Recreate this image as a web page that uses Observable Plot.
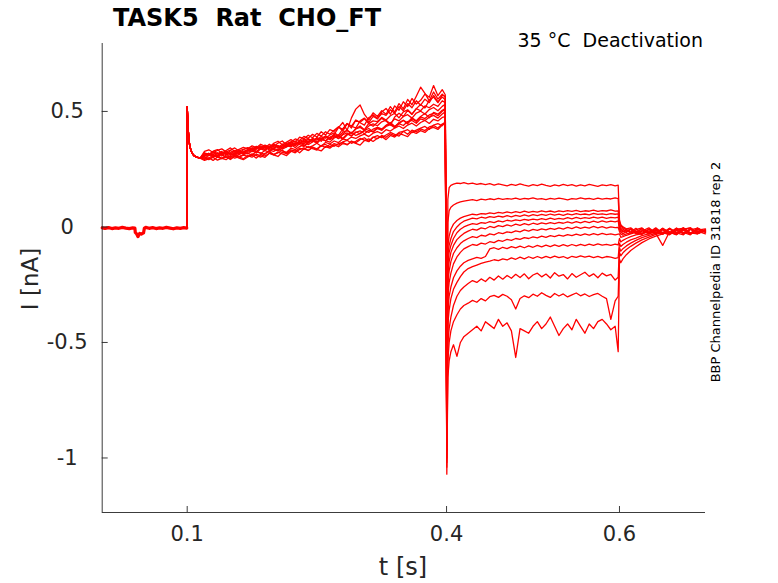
<!DOCTYPE html>
<html>
<head>
<meta charset="utf-8">
<script src="https://cdn.jsdelivr.net/npm/d3@7"></script>
<script src="https://cdn.jsdelivr.net/npm/@observablehq/plot@0.6"></script>
<style>
  html, body { margin: 0; padding: 0; background: #fff; }
  svg text { white-space: pre; }
</style>
</head>
<body>
<div id="chart"></div>
<script>
// ---- axis ticks ----
const xTicks = [0.1, 0.4, 0.6];
const yTicks = [0.5, 0, -0.5, -1];
const xDomain = [0.0017, 0.6995];
const yDomain = [-1.236, 0.794];

// ---- pre-pulse segment (shared by all sweeps) ----
const tPre = [0.0017,0.005,0.009,0.013,0.017,0.021,0.025,0.029,0.033,0.037,0.0395,0.040,0.0415,0.043,0.045,0.047,0.0495,0.0505,0.052,0.056,0.06,0.064,0.068,0.072,0.076,0.08,0.084,0.088,0.092,0.096,0.0995];
const iPre = [-0.004,-0.006,-0.003,-0.007,-0.004,-0.006,-0.002,-0.005,-0.007,-0.004,-0.005,-0.024,-0.03,-0.042,-0.028,-0.031,-0.026,-0.005,-0.002,-0.006,-0.003,-0.007,-0.004,-0.006,-0.002,-0.005,-0.008,-0.004,-0.006,-0.003,-0.005];

// ---- pulse onset (shared) ----
const tOnset = [0.0995,0.1,0.1006,0.1012,0.102,0.103,0.1045,0.106,0.108,0.111,0.115];
const iOnset = [-0.005,0.52,0.47,0.42,0.38,0.35,0.33,0.317,0.308,0.302,0.298];

// ---- conditioning pulse, per sweep ----
const tPulse = [0.12,0.125,0.13,0.135,0.14,0.145,0.15,0.155,0.16,0.165,
 0.17,0.175,0.18,0.185,0.19,0.195,0.2,0.205,0.21,0.215,
 0.22,0.225,0.23,0.235,0.24,0.245,0.25,0.255,0.26,0.265,
 0.27,0.275,0.28,0.285,0.29,0.295,0.3,0.305,0.31,0.315,
 0.32,0.325,0.33,0.335,0.34,0.345,0.35,0.355,0.36,0.365,
 0.37,0.375,0.38,0.385,0.39,0.395,0.3985];
const iPulse = [
 [0.312,0.318,0.305,0.309,0.322,0.316,0.301,0.314,0.326,0.318,
  0.322,0.335,0.327,0.318,0.331,0.344,0.336,0.329,0.341,0.352,
  0.347,0.359,0.366,0.351,0.362,0.378,0.369,0.383,0.372,0.388,
  0.395,0.384,0.402,0.418,0.406,0.425,0.437,0.421,0.448,0.436,
  0.452,0.47,0.458,0.441,0.476,0.492,0.478,0.505,0.487,0.512,
  0.53,0.515,0.548,0.562,0.538,0.571,0.565],
 [0.298,0.309,0.315,0.302,0.296,0.311,0.32,0.307,0.313,0.324,
  0.316,0.329,0.321,0.338,0.33,0.324,0.342,0.351,0.337,0.346,
  0.358,0.343,0.361,0.372,0.356,0.368,0.384,0.371,0.392,0.379,
  0.401,0.43,0.452,0.418,0.472,0.51,0.528,0.487,0.462,0.494,
  0.478,0.503,0.488,0.521,0.497,0.534,0.511,0.552,0.529,0.566,
  0.605,0.578,0.546,0.584,0.553,0.575,0.562],
 [0.318,0.311,0.326,0.319,0.307,0.322,0.314,0.331,0.323,0.316,
  0.329,0.337,0.324,0.341,0.348,0.333,0.339,0.352,0.344,0.358,
  0.351,0.363,0.357,0.348,0.369,0.376,0.362,0.381,0.374,0.367,
  0.385,0.393,0.379,0.398,0.41,0.396,0.404,0.417,0.409,0.423,
  0.431,0.419,0.44,0.452,0.436,0.447,0.462,0.451,0.473,0.46,
  0.478,0.491,0.472,0.496,0.488,0.505,0.512],
 [0.298,0.291,0.304,0.31,0.296,0.303,0.294,0.309,0.302,0.311,
  0.305,0.316,0.309,0.302,0.319,0.326,0.314,0.321,0.332,0.318,
  0.334,0.327,0.341,0.336,0.348,0.339,0.333,0.352,0.357,0.346,
  0.361,0.354,0.368,0.375,0.362,0.371,0.383,0.376,0.369,0.388,
  0.395,0.386,0.398,0.409,0.401,0.393,0.414,0.421,0.408,0.419,
  0.428,0.435,0.422,0.441,0.447,0.438,0.458],
 [0.307,0.314,0.321,0.309,0.317,0.328,0.312,0.32,0.331,0.322,
  0.335,0.326,0.341,0.347,0.333,0.349,0.356,0.343,0.358,0.351,
  0.364,0.372,0.358,0.376,0.383,0.369,0.387,0.378,0.394,0.385,
  0.401,0.392,0.41,0.418,0.403,0.424,0.431,0.419,0.437,0.446,
  0.438,0.455,0.462,0.447,0.468,0.459,0.478,0.486,0.471,0.493,
  0.501,0.489,0.508,0.517,0.503,0.522,0.531],
 [0.292,0.299,0.288,0.303,0.297,0.291,0.306,0.298,0.304,0.295,
  0.309,0.302,0.315,0.308,0.301,0.319,0.312,0.324,0.316,0.309,
  0.326,0.334,0.321,0.338,0.331,0.343,0.336,0.329,0.348,0.341,
  0.355,0.347,0.361,0.357,0.369,0.362,0.354,0.374,0.381,0.37,
  0.384,0.392,0.378,0.396,0.389,0.404,0.398,0.391,0.412,0.405,
  0.417,0.409,0.426,0.431,0.422,0.441,0.448],
 [0.321,0.314,0.328,0.335,0.319,0.331,0.342,0.327,0.336,0.344,
  0.338,0.351,0.343,0.358,0.349,0.341,0.362,0.371,0.356,0.367,
  0.378,0.366,0.389,0.382,0.397,0.386,0.405,0.393,0.412,0.401,
  0.419,0.434,0.415,0.447,0.428,0.462,0.451,0.441,0.473,0.486,
  0.469,0.497,0.513,0.488,0.524,0.505,0.542,0.521,0.556,0.532,
  0.548,0.575,0.561,0.612,0.568,0.594,0.572],
 [0.303,0.297,0.311,0.306,0.315,0.301,0.309,0.318,0.304,0.313,
  0.319,0.311,0.326,0.321,0.314,0.332,0.327,0.338,0.329,0.323,
  0.341,0.335,0.348,0.356,0.343,0.351,0.362,0.349,0.366,0.359,
  0.372,0.365,0.381,0.376,0.389,0.383,0.394,0.402,0.391,0.406,
  0.413,0.404,0.421,0.415,0.428,0.437,0.426,0.441,0.449,0.437,
  0.452,0.461,0.448,0.466,0.459,0.474,0.478],
 [0.327,0.334,0.322,0.331,0.338,0.325,0.333,0.342,0.329,0.336,
  0.343,0.337,0.349,0.341,0.354,0.347,0.358,0.35,0.345,0.362,
  0.368,0.359,0.373,0.366,0.379,0.372,0.364,0.383,0.391,0.378,
  0.389,0.397,0.384,0.402,0.395,0.409,0.416,0.403,0.418,0.411,
  0.426,0.419,0.435,0.443,0.43,0.447,0.439,0.456,0.461,0.449,
  0.468,0.461,0.475,0.483,0.471,0.489,0.498],
 [0.309,0.316,0.304,0.321,0.313,0.326,0.318,0.311,0.329,0.322,
  0.334,0.327,0.341,0.336,0.348,0.339,0.353,0.346,0.339,0.357,
  0.364,0.356,0.371,0.379,0.365,0.384,0.376,0.391,0.384,0.398,
  0.407,0.396,0.425,0.448,0.436,0.462,0.453,0.468,0.447,0.459,
  0.456,0.474,0.463,0.481,0.492,0.472,0.498,0.507,0.489,0.512,
  0.503,0.524,0.516,0.531,0.522,0.546,0.538],
 [0.288,0.295,0.301,0.289,0.297,0.304,0.292,0.306,0.298,0.291,
  0.303,0.311,0.298,0.314,0.307,0.319,0.312,0.305,0.323,0.317,
  0.328,0.321,0.335,0.342,0.331,0.346,0.338,0.352,0.344,0.357,
  0.349,0.361,0.366,0.355,0.372,0.364,0.378,0.386,0.371,0.389,
  0.382,0.396,0.388,0.403,0.394,0.409,0.414,0.401,0.419,0.412,
  0.424,0.417,0.433,0.439,0.428,0.446,0.449],
 [0.318,0.309,0.324,0.315,0.327,0.312,0.321,0.33,0.316,0.325,
  0.331,0.339,0.326,0.343,0.337,0.349,0.34,0.334,0.353,0.347,
  0.358,0.351,0.367,0.36,0.372,0.378,0.364,0.381,0.373,0.388,
  0.394,0.382,0.399,0.407,0.393,0.411,0.404,0.418,0.426,0.412,
  0.431,0.424,0.439,0.447,0.433,0.452,0.461,0.446,0.468,0.457,
  0.476,0.469,0.485,0.492,0.481,0.501,0.508],
 [0.306,0.319,0.311,0.302,0.323,0.316,0.33,0.321,0.314,0.335,
  0.329,0.343,0.336,0.351,0.342,0.358,0.347,0.363,0.372,0.355,
  0.368,0.381,0.374,0.392,0.384,0.401,0.389,0.412,0.398,0.421,
  0.414,0.432,0.423,0.446,0.437,0.428,0.459,0.471,0.452,0.479,
  0.468,0.491,0.483,0.507,0.492,0.521,0.503,0.534,0.516,0.546,
  0.527,0.553,0.538,0.569,0.541,0.562,0.551]
];

// ---- test step, onset part, per sweep ----
const tTestOnset = [0.4003,0.4015,0.403,0.405,0.408,0.412,0.416,0.42];
const iTestOnset = [
 [-0.72,0.12,0.17,0.18,0.185,0.19,0.188,0.192],
 [-0.78,0.02,0.07,0.085,0.095,0.103,0.108,0.112],
 [-0.82,-0.08,-0.04,-0.01,0.012,0.028,0.038,0.045],
 [-0.85,-0.12,-0.08,-0.05,-0.02,0.0,0.015,0.025],
 [-0.88,-0.16,-0.11,-0.08,-0.05,-0.025,-0.01,0.0],
 [-0.9,-0.2,-0.15,-0.11,-0.08,-0.055,-0.04,-0.028],
 [-0.92,-0.24,-0.19,-0.15,-0.115,-0.09,-0.072,-0.06],
 [-0.95,-0.3,-0.24,-0.2,-0.16,-0.13,-0.11,-0.095],
 [-0.97,-0.36,-0.3,-0.26,-0.22,-0.19,-0.17,-0.155],
 [-1.0,-0.42,-0.36,-0.31,-0.27,-0.24,-0.215,-0.195],
 [-1.02,-0.5,-0.44,-0.39,-0.34,-0.3,-0.275,-0.26],
 [-1.04,-0.58,-0.5,-0.45,-0.41,-0.38,-0.355,-0.34],
 [-1.07,-0.65,-0.58,-0.54,-0.51,-0.56,-0.5,-0.475]
];

// ---- test step, steady part, per sweep ----
const tTestBody = [0.425,0.43,0.435,0.44,0.445,0.45,0.455,0.46,0.465, 0.47,0.475,0.48,0.485,0.49,0.495,0.5,0.505,0.51, 0.515,0.52,0.525,0.53,0.535,0.54,0.545,0.55,0.555, 0.56,0.565,0.57,0.575,0.58,0.585,0.59,0.595,0.5985];
const iTestBody = [
 [0.186,0.19,0.184,0.188,0.183,0.187,0.181,0.186,0.182, 0.178,0.184,0.18,0.186,0.181,0.177,0.183,0.179,0.185, 0.18,0.176,0.182,0.178,0.184,0.179,0.183,0.177,0.182, 0.178,0.184,0.18,0.176,0.182,0.179,0.183,0.178,0.181],
 [0.115,0.118,0.114,0.12,0.117,0.122,0.118,0.124,0.119, 0.123,0.12,0.125,0.119,0.124,0.121,0.126,0.12,0.123, 0.118,0.124,0.12,0.125,0.121,0.117,0.123,0.12,0.126, 0.121,0.124,0.119,0.125,0.12,0.124,0.121,0.126,0.123],
 [0.05,0.055,0.052,0.058,0.056,0.061,0.058,0.063,0.06, 0.065,0.061,0.066,0.062,0.068,0.063,0.067,0.064,0.07, 0.065,0.069,0.064,0.07,0.066,0.071,0.067,0.072,0.066, 0.07,0.068,0.073,0.067,0.071,0.069,0.074,0.068,0.07],
 [0.032,0.038,0.035,0.042,0.038,0.045,0.041,0.047,0.043, 0.049,0.044,0.05,0.046,0.052,0.047,0.053,0.049,0.054, 0.05,0.056,0.051,0.055,0.05,0.057,0.052,0.058,0.053, 0.056,0.052,0.059,0.054,0.057,0.053,0.058,0.055,0.057],
 [0.008,0.014,0.011,0.019,0.016,0.023,0.019,0.026,0.022, 0.029,0.025,0.031,0.027,0.033,0.029,0.034,0.031,0.036, 0.032,0.038,0.033,0.037,0.034,0.04,0.035,0.041,0.036, 0.04,0.037,0.043,0.038,0.042,0.037,0.041,0.039,0.042],
 [-0.018,-0.01,-0.014,-0.004,-0.008,0.002,-0.003,0.006,0.001, 0.009,0.004,0.012,0.007,0.014,0.009,0.016,0.011,0.018, 0.013,0.019,0.014,0.02,0.016,0.022,0.017,0.023,0.018, 0.024,0.019,0.025,0.02,0.026,0.021,0.025,0.022,0.026],
 [-0.05,-0.042,-0.046,-0.036,-0.04,-0.03,-0.034,-0.025,-0.029, -0.021,-0.025,-0.017,-0.021,-0.013,-0.018,-0.011,-0.015,-0.008, -0.013,-0.006,-0.011,-0.004,-0.009,-0.002,-0.007,0.0,-0.006, -0.001,-0.005,0.002,-0.004,0.001,-0.005,0.0,-0.003,-0.002],
 [-0.085,-0.076,-0.08,-0.07,-0.074,-0.064,-0.068,-0.058,-0.062, -0.054,-0.058,-0.05,-0.054,-0.046,-0.05,-0.043,-0.047,-0.04, -0.045,-0.038,-0.042,-0.035,-0.04,-0.033,-0.038,-0.031,-0.036, -0.03,-0.035,-0.029,-0.034,-0.028,-0.033,-0.03,-0.034,-0.031],
 [-0.145,-0.138,-0.132,-0.136,-0.128,-0.095,-0.09,-0.097,-0.088, -0.094,-0.085,-0.091,-0.083,-0.09,-0.082,-0.088,-0.08,-0.086, -0.079,-0.085,-0.078,-0.084,-0.077,-0.083,-0.076,-0.082,-0.075, -0.081,-0.074,-0.08,-0.073,-0.079,-0.075,-0.08,-0.074,-0.078],
 [-0.18,-0.172,-0.165,-0.158,-0.152,-0.148,-0.142,-0.146,-0.138, -0.143,-0.134,-0.14,-0.131,-0.138,-0.129,-0.136,-0.128,-0.135, -0.127,-0.134,-0.126,-0.133,-0.128,-0.136,-0.127,-0.132,-0.125, -0.131,-0.126,-0.133,-0.127,-0.134,-0.128,-0.131,-0.136,-0.133],
 [-0.245,-0.232,-0.24,-0.225,-0.236,-0.218,-0.23,-0.212,-0.226, -0.21,-0.222,-0.205,-0.219,-0.203,-0.224,-0.208,-0.2,-0.216, -0.204,-0.221,-0.198,-0.213,-0.206,-0.225,-0.202,-0.218,-0.207, -0.196,-0.214,-0.203,-0.22,-0.2,-0.212,-0.205,-0.23,-0.218],
 [-0.33,-0.318,-0.326,-0.31,-0.32,-0.302,-0.296,-0.305,-0.292, -0.3,-0.315,-0.355,-0.31,-0.298,-0.306,-0.291,-0.3,-0.285, -0.296,-0.305,-0.288,-0.299,-0.29,-0.303,-0.294,-0.286,-0.298, -0.29,-0.301,-0.293,-0.288,-0.3,-0.31,-0.40,-0.32,-0.3],
 [-0.46,-0.445,-0.43,-0.45,-0.41,-0.425,-0.44,-0.4,-0.43, -0.415,-0.45,-0.565,-0.44,-0.45,-0.46,-0.43,-0.41,-0.44, -0.42,-0.39,-0.43,-0.47,-0.44,-0.42,-0.445,-0.4,-0.43, -0.46,-0.42,-0.44,-0.41,-0.4,-0.42,-0.445,-0.43,-0.54]
];

// ---- tail after the test step, per sweep ----
const tTail = [0.6,0.6015,0.604,0.608,0.613,0.619,0.626,0.634,0.642,0.65,0.658,0.666,0.674,0.682,0.69,0.6995];
const iTail = [
 [0.03,0.01,0.0,-0.008,-0.004,-0.02,-0.008,-0.026,-0.01,-0.024,-0.006,-0.028,-0.012,-0.004,-0.026,-0.016],
 [0.02,0.005,-0.004,-0.012,-0.022,-0.006,-0.028,-0.01,-0.03,-0.008,-0.025,-0.005,-0.029,-0.012,-0.006,-0.02],
 [0.01,-0.002,-0.01,-0.018,-0.008,-0.028,-0.006,-0.024,-0.004,-0.027,-0.03,-0.01,-0.006,-0.026,-0.03,-0.012],
 [0.0,-0.01,-0.016,-0.024,-0.01,-0.026,-0.032,-0.012,-0.028,-0.006,-0.024,-0.032,-0.01,-0.004,-0.028,-0.018],
 [-0.005,-0.014,-0.022,-0.01,-0.028,-0.012,-0.004,-0.03,-0.014,-0.032,-0.008,-0.026,-0.004,-0.03,-0.012,-0.022],
 [-0.01,-0.02,-0.03,-0.02,-0.01,-0.03,-0.018,-0.004,-0.026,-0.012,-0.03,-0.006,-0.024,-0.034,-0.008,-0.02],
 [-0.02,-0.03,-0.036,-0.03,-0.026,-0.018,-0.03,-0.01,-0.026,-0.006,-0.03,-0.016,-0.004,-0.026,-0.014,-0.008],
 [-0.03,-0.045,-0.042,-0.036,-0.03,-0.024,-0.016,-0.03,-0.01,-0.028,-0.006,-0.024,-0.014,-0.032,-0.004,-0.022],
 [-0.05,-0.065,-0.058,-0.05,-0.042,-0.034,-0.03,-0.02,-0.03,-0.012,-0.028,-0.008,-0.026,-0.01,-0.03,-0.014],
 [-0.07,-0.085,-0.076,-0.066,-0.056,-0.048,-0.038,-0.03,-0.02,-0.032,-0.01,-0.026,-0.034,-0.008,-0.024,-0.012],
 [-0.09,-0.105,-0.094,-0.082,-0.07,-0.058,-0.046,-0.036,-0.028,-0.08,-0.02,-0.032,-0.012,-0.028,-0.006,-0.024],
 [-0.11,-0.125,-0.112,-0.098,-0.084,-0.07,-0.056,-0.044,-0.032,-0.024,-0.034,-0.014,-0.03,-0.008,-0.028,-0.016],
 [-0.14,-0.155,-0.138,-0.12,-0.102,-0.086,-0.068,-0.052,-0.04,-0.03,-0.022,-0.034,-0.01,-0.026,-0.018,-0.03]
];

// ---- build tables ----
const preRows = tPre.map((t, k) => ({t, i: iPre[k]}));
const rows = [];
iPulse.forEach((_, s) => {
  const ts = [...tOnset, ...tPulse, ...tTestOnset, ...tTestBody, ...tTail];
  const is = [...iOnset, ...iPulse[s], ...iTestOnset[s], ...iTestBody[s], ...iTail[s]];
  ts.forEach((t, k) => rows.push({sweep: s, t, i: is[k]}));
});

const W = 778, H = 583;
const mL = 101.7, mR = 73, mT = 43, mB = 71;
const axisColor = "#262626";

const svg = Plot.plot({
  width: W, height: H,
  marginLeft: mL, marginRight: mR, marginTop: mT, marginBottom: mB,
  style: {fontFamily: "DejaVu Sans", background: "#fff", overflow: "visible"},
  x: {domain: xDomain},
  y: {domain: yDomain},
  marks: [
    Plot.line(preRows, {x: "t", y: "i", stroke: "#ff0000", strokeWidth: 3.2}),
    Plot.line(rows, {x: "t", y: "i", z: "sweep", stroke: "#ff0000", strokeWidth: 1.3}),
    Plot.ruleX([xDomain[0]], {stroke: axisColor, strokeWidth: 0.9}),
    Plot.ruleY([yDomain[0]], {stroke: axisColor, strokeWidth: 0.9}),
    Plot.tickX(xTicks, {x: d => d, insetTop: H - mT - mB - 6, stroke: axisColor, strokeWidth: 0.9}),
    Plot.tickY(yTicks, {y: d => d, insetRight: W - mL - mR - 6, stroke: axisColor, strokeWidth: 0.9}),
    Plot.axisX({ticks: xTicks, tickSize: 0, tickPadding: 14, fontSize: 21, color: axisColor, label: null, tickFormat: d => String(d)}),
    Plot.axisY({ticks: yTicks, tickSize: 0, tickPadding: 35, textAnchor: "middle", fontSize: 21, color: axisColor, label: null, tickFormat: d => String(d)})
  ]
});

const sel = d3.select(svg);
function addText(txt, x, y, opts) {
  const t = sel.append("text")
    .attr("x", x).attr("y", y)
    .attr("font-family", "DejaVu Sans")
    .attr("font-size", opts.size)
    .attr("fill", opts.fill || "#000")
    .attr("text-anchor", opts.anchor || "start")
    .style("white-space", "pre")
    .text(txt);
  if (opts.bold) t.attr("font-weight", "bold");
  if (opts.rotate) t.attr("transform", `rotate(-90 ${x} ${y})`);
  return t;
}
addText("TASK5  Rat  CHO_FT", 113, 26, {size: 24, bold: true});
addText("35 °C  Deactivation", 703, 47, {size: 19, anchor: "end"});
addText("BBP Channelpedia ID 31818 rep 2", 720, 272, {size: 13, anchor: "middle", rotate: true});
addText("I [nA]", 38, 279, {size: 23, anchor: "middle", rotate: true, fill: axisColor});
addText("t [s]", 403, 575, {size: 24, anchor: "middle", fill: axisColor});

document.getElementById("chart").appendChild(svg);
</script>
</body>
</html>
